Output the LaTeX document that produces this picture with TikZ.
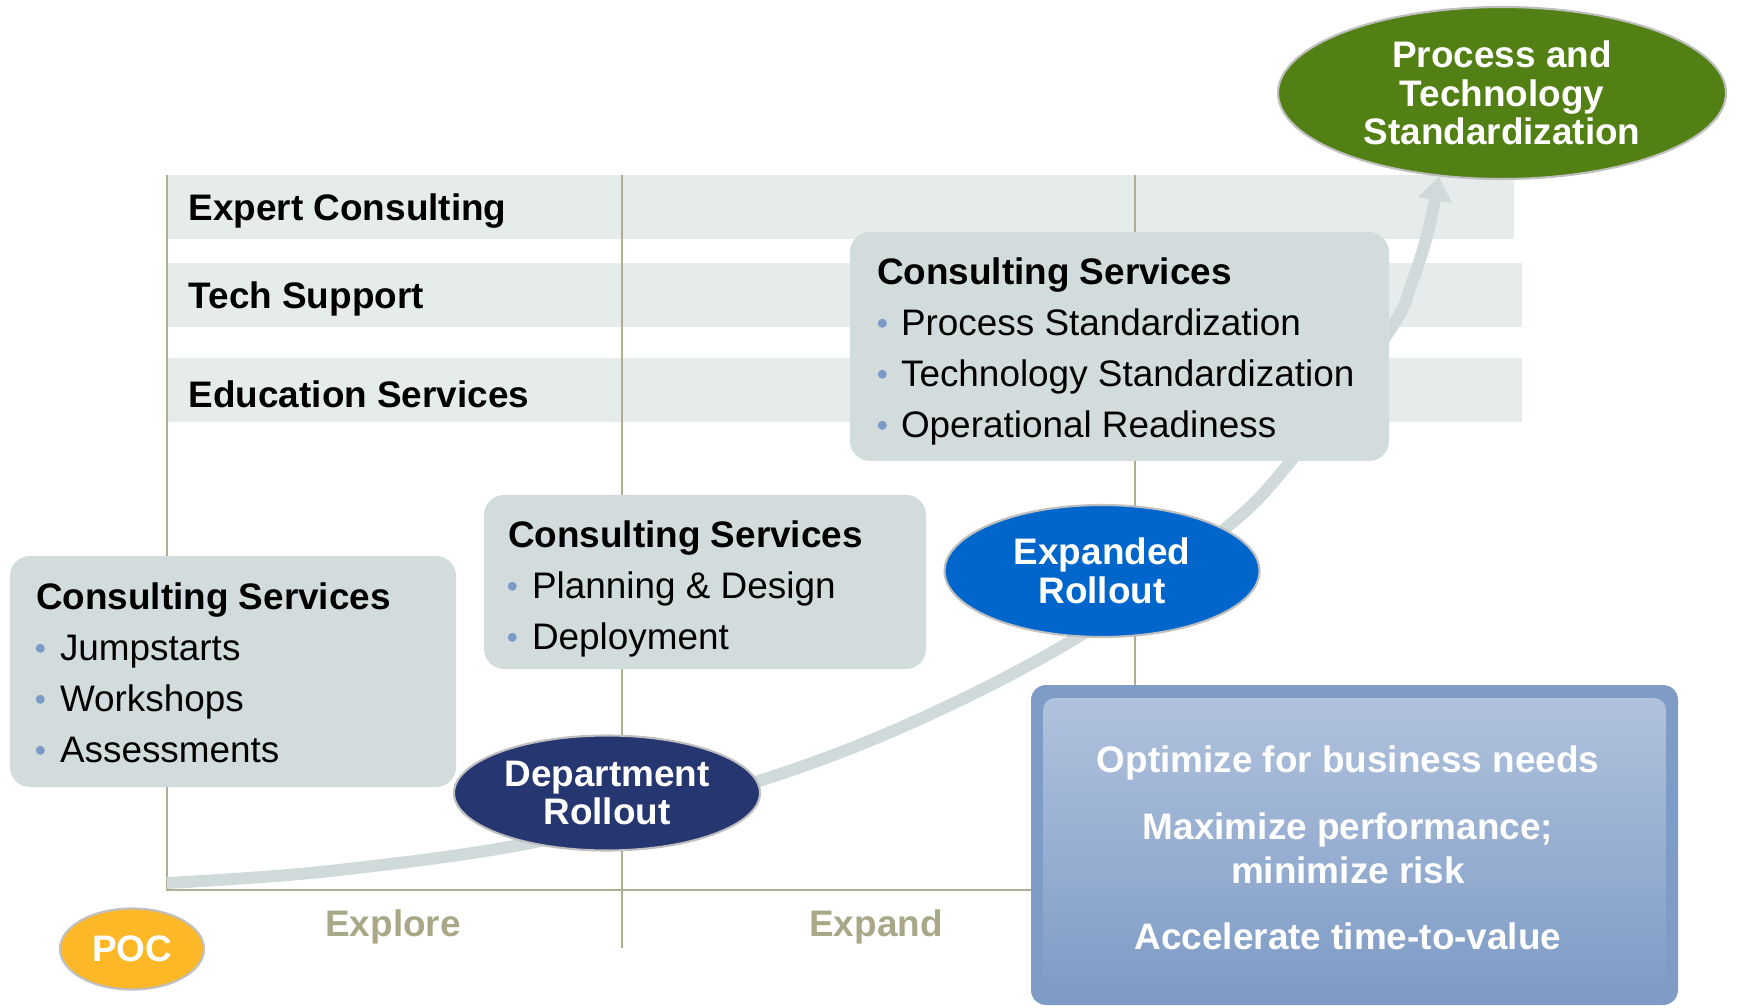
\documentclass[tikz,border=0pt]{standalone}
\usepackage{fontspec}
\setmainfont{Liberation Sans}
\usepackage{xcolor}
\usetikzlibrary{arrows.meta,shapes,calc,positioning}
\definecolor{bandgray}{HTML}{E6ECEC}
\definecolor{boxgray}{HTML}{D3DCDC}
\definecolor{trackgray}{HTML}{D0DADA}
\definecolor{axisolive}{HTML}{AEAE90}
\definecolor{dotblue}{HTML}{7B9AC8}
\definecolor{navy}{HTML}{263671}
\definecolor{rollblue}{HTML}{0066CC}
\definecolor{stdgreen}{HTML}{538014}
\definecolor{pocorange}{HTML}{FDB827}
\definecolor{goalblue}{HTML}{7F9CC6}
\definecolor{goaltop}{HTML}{B0C2DD}
\definecolor{phasegray}{HTML}{A8A888}
\definecolor{rimgray}{HTML}{BFBFBF}

\begin{document}
\begin{tikzpicture}
		\tikzstyle{every node}=[font=\fontsize{10.5}{14.5}\selectfont, inner sep=0pt]
		\tikzstyle{band}=[fill=bandgray]
		\tikzstyle{rowlabel}=[font=\fontsize{10.5}{14.5}\selectfont\bfseries, anchor=west]
		\tikzstyle{axis}=[draw=axisolive, line width=0.6pt]
		\tikzstyle{csbox}=[fill=boxgray, rounded corners=0.2cm]
		\tikzstyle{cstitle}=[font=\fontsize{10.5}{14.5}\selectfont\bfseries, anchor=base west]
		\tikzstyle{csitem}=[anchor=base west]
		\tikzstyle{phase}=[ellipse, draw=rimgray, line width=0.6pt, text=white, align=center, font=\fontsize{10.5}{11}\selectfont\bfseries]
		\tikzstyle{track}=[draw=trackgray, line width=0.12cm, -{Triangle[length=0.24cm, width=0.33cm]}]
		\tikzstyle{stage}=[text=phasegray, font=\fontsize{10.5}{14.5}\selectfont\bfseries]
		\useasboundingbox (0,0) rectangle (17.38,10.07);
		% rows
		\fill [band] (1.67,8.32) rectangle (15.14,7.68);
		\fill [band] (1.67,7.44) rectangle (15.22,6.80);
		\fill [band] (1.67,6.49) rectangle (15.22,5.85);
		\node [rowlabel] (expert) at (1.88,7.96) {Expert Consulting};
		\node [rowlabel] (tech) at (1.88,7.08) {Tech Support};
		\node [rowlabel] (edu) at (1.88,6.13) {Education Services};
		% axes
		\coordinate (corner) at (1.67,1.17);
		\draw [axis] (1.67,8.32) -- (corner) -- (10.40,1.17);
		\draw [axis] (6.22,8.32) -- (6.22,0.59);
		\draw [axis] (11.35,8.32) -- (11.35,1.17);
		% goal and growth curve
		\node [phase, fill=stdgreen, minimum width=4.48cm, minimum height=1.72cm] (std) at (15.02,9.14) {Process and\\Technology\\Standardization};
		\coordinate (start) at (1.67,1.24);
		\draw [track] plot [smooth, tension=0.55] coordinates {(start) (3.30,1.36) (5.40,1.66) (7.62,2.27) (9.20,2.88) (10.81,3.72) (12.27,4.80) (12.90,5.45) (13.90,6.77) (14.12,7.25) (14.28,7.75) (std.233)};
		% consulting boxes
		\node [csbox, minimum width=4.46cm, minimum height=2.31cm] (cs1) at (2.33,3.355) {};
		\node [cstitle] (cs1t) at ([shift={(0.26,-0.54)}]cs1.north west) {Consulting Services};
		\foreach \s [count=\i] in {Jumpstarts,Workshops,Assessments}{
			\fill [dotblue] ([shift={(0.31,-0.42-0.51*\i)}]cs1.north west) circle (0.045);
			\node [csitem] (cs1i\i) at ([shift={(0.50,-0.54-0.51*\i)}]cs1.north west) {\s};
		}
		\node [csbox, minimum width=4.42cm, minimum height=1.74cm] (cs2) at (7.05,4.25) {};
		\node [cstitle] (cs2t) at ([shift={(0.24,-0.53)}]cs2.north west) {Consulting Services};
		\foreach \s [count=\i] in {Planning \& Design,Deployment}{
			\fill [dotblue] ([shift={(0.29,-0.41-0.51*\i)}]cs2.north west) circle (0.045);
			\node [csitem] (cs2i\i) at ([shift={(0.48,-0.53-0.51*\i)}]cs2.north west) {\s};
		}
		\node [csbox, minimum width=5.39cm, minimum height=2.29cm] (cs3) at (11.195,6.605) {};
		\node [cstitle] (cs3t) at ([shift={(0.27,-0.53)}]cs3.north west) {Consulting Services};
		\foreach \s [count=\i] in {Process Standardization,Technology Standardization,Operational Readiness}{
			\fill [dotblue] ([shift={(0.33,-0.41-0.51*\i)}]cs3.north west) circle (0.045);
			\node [csitem] (cs3i\i) at ([shift={(0.51,-0.53-0.51*\i)}]cs3.north west) {\s};
		}
		% milestones
		\node [phase, fill=navy, minimum width=3.06cm, minimum height=1.15cm] (dept) at (6.07,2.14) {Department\\Rollout};
		\node [phase, fill=rollblue, minimum width=3.15cm, minimum height=1.32cm] (xr) at (11.02,4.36) {Expanded\\Rollout};
		\node [phase, fill=pocorange, minimum width=1.44cm, minimum height=0.81cm] (poc) at (1.32,0.58) {POC};
		\node [stage] (explore) at (3.93,0.80) {Explore};
		\node [stage] (expand) at (8.76,0.80) {Expand};
		% benefits panel
		\fill [goalblue, rounded corners=0.15cm] (10.31,0.02) rectangle (16.78,3.22);
		\shade [top color=goaltop, bottom color=goalblue, rounded corners=0.12cm] (10.43,0.14) rectangle (16.66,3.09);
		\node [text=white, align=center, font=\fontsize{10.5}{12.5}\selectfont\bfseries] (goals) at (13.48,1.59) {Optimize for business needs\\[6.5pt] Maximize performance;\\ minimize risk\\[6.5pt] Accelerate time-to-value};
\end{tikzpicture}
\end{document}
